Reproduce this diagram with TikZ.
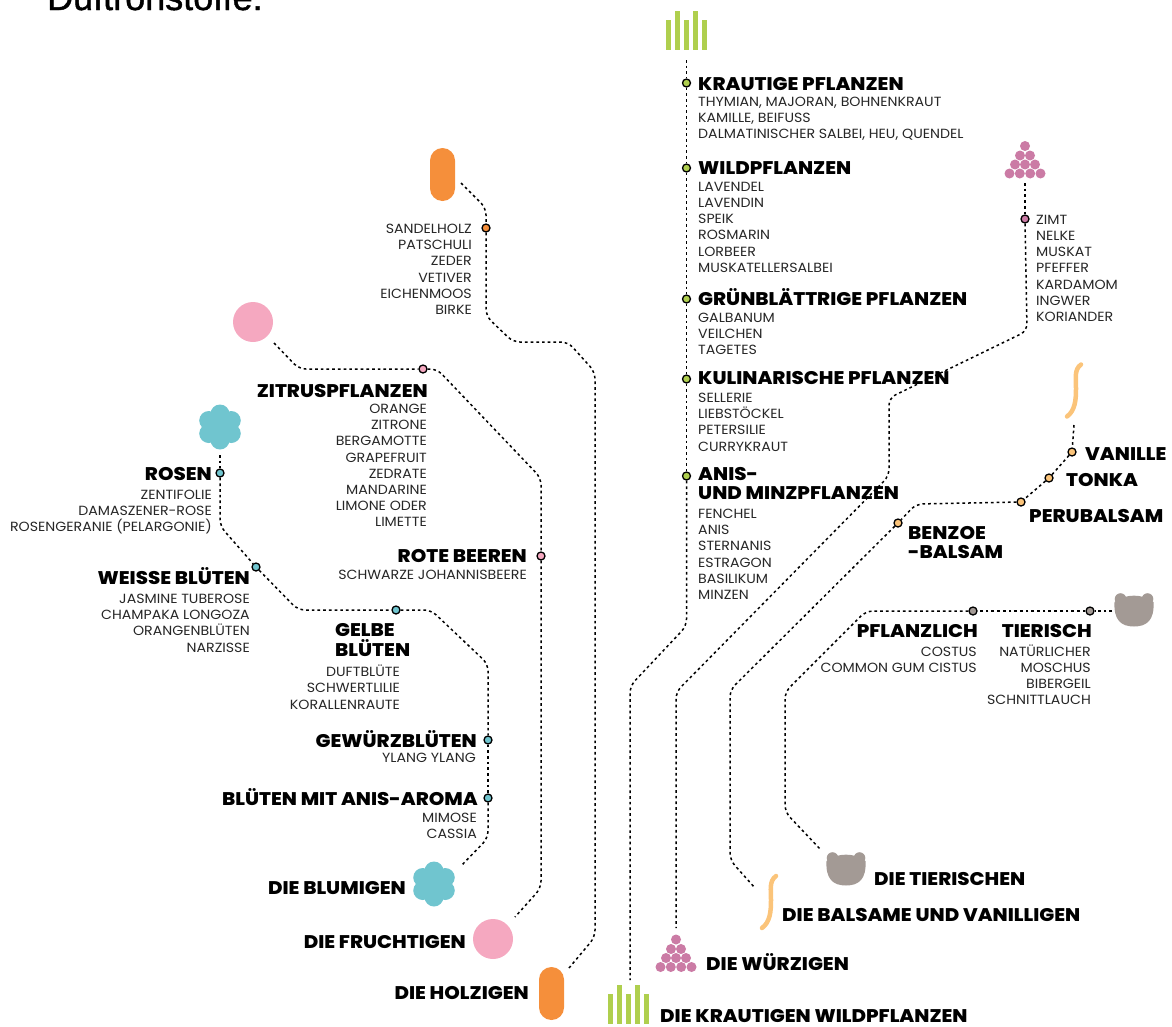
\documentclass[tikz,border=0pt]{standalone}
\usepackage{fontspec}
\setmainfont{Poppins}[UprightFont=*-Regular, BoldFont=*-ExtraBold, UprightFeatures={FakeStretch=1.065}, BoldFeatures={FakeStretch=1.08}]
\newfontfamily\titlefont[FakeBold=1.2]{Liberation Sans}
\usetikzlibrary{positioning}

\definecolor{holzcol}{HTML}{F58F3B}
\definecolor{fruchtcol}{HTML}{F5A8C0}
\definecolor{blumcol}{HTML}{70C5CF}
\definecolor{krautcol}{HTML}{AFCF4E}
\definecolor{wuerzcol}{HTML}{CB7BA5}
\definecolor{balsamcol}{HTML}{FBC47A}
\definecolor{tiercol}{HTML}{A39A95}

\tikzset{
  dotline/.style={line width=1.5pt, dash pattern=on 2.7pt off 3pt, rounded corners=7pt},
  stopdot/.style={circle, draw=black, line width=1.3pt, fill=#1, inner sep=0pt, minimum size=8pt},
  head/.style={font=\fontsize{18.3}{19.5}\selectfont\bfseries, inner sep=0pt, yshift=-0.7pt},
  items/.style={font=\fontsize{13.3}{16.2}\selectfont, inner sep=0pt, text=black!85, yshift=-0.4pt},
  pill/.style={rectangle, rounded corners=12.5pt, fill=holzcol, minimum width=25pt, minimum height=53pt, inner sep=0pt},
  disc/.style={circle, fill=fruchtcol, minimum size=40pt, inner sep=0pt},
  flower/.pic={
    \fill[blumcol] (0,0) circle (13pt);
    \foreach \a in {30,90,...,330} \fill[blumcol] (\a:13pt) circle (9.5pt);
  },
  bars/.pic={
    \foreach \bx/\btop in {-20.5/-30, -11.5/-39, -2.5/-30, 6.5/-39, 15.5/-30}
      \fill[krautcol] (\bx,0) rectangle ++(5,\btop);
  },
  spices/.pic={
    \foreach \sx/\sy in {0/-27.5, -5/-18, 5/-18, -10/-9, 0/-9, 10/-9, -15.5/0, -5.2/0, 5.2/0, 15.5/0}
      \fill[wuerzcol] (\sx,\sy) circle (5pt);
  },
  squiggle/.pic={
    \draw[balsamcol, line width=4.5pt, line cap=round] (9,-26) .. controls (2,-21) and (4,-12) .. (4,-2)
      .. controls (4,10) and (3,20) .. (-5,26);
  },
  bear/.pic={
    \fill[tiercol] (-13.5,-11) circle (5.8pt);
    \fill[tiercol] (13.5,-11) circle (5.8pt);
    \fill[tiercol] (-19.5,-8) .. controls (-8,-16.5) and (8,-16.5) .. (19.5,-8)
      .. controls (20.5,10) and (13,16.5) .. (0,16.5) .. controls (-13,16.5) and (-20.5,10) .. (-19.5,-8) -- cycle;
  }
}

\begin{document}
\begin{tikzpicture}[x=1pt, y=-1pt]
  \useasboundingbox (0,0) rectangle (1172,1026);
  \clip (0,0) rectangle (1172,1026);

  % title %
  \node[anchor=base west, inner sep=0pt, font=\fontsize{36}{40}\titlefont] (title) at (47,10) {Duftronstoffe:};

  % icons %
  \node[pill] (holztop) at (442.5,174.5) {};
  \node[pill] (holzbot) at (551.5,993.5) {};
  \node[disc] (fruchttop) at (253,322) {};
  \node[disc] (fruchtbot) at (493,939) {};
  \pic at (220,427) {flower};
  \pic at (434,884) {flower};
  \pic at (686.5,50) {bars};
  \pic at (628.5,1024) {bars};
  \pic at (1025,173.5) {spices};
  \pic at (676,967) {spices};
  \pic at (1072,390.5) {squiggle};
  \pic at (767,902) {squiggle};
  \pic at (1134,610) {bear};
  \pic at (846,869) {bear};

  % stops %
  \node[stopdot=holzcol] (sandel) at (486,228) {};
  \node[stopdot=fruchtcol] (zitrus) at (423,369) {};
  \node[stopdot=fruchtcol] (beeren) at (541,556) {};
  \node[stopdot=blumcol] (rosen) at (220,473) {};
  \node[stopdot=blumcol] (weiss) at (256,567) {};
  \node[stopdot=blumcol] (gelb) at (396,610) {};
  \node[stopdot=blumcol] (gewuerz) at (488,740) {};
  \node[stopdot=blumcol] (anisblu) at (488,798) {};
  \node[stopdot=krautcol] (krautig) at (686.5,83) {};
  \node[stopdot=krautcol] (wild) at (686.5,168) {};
  \node[stopdot=krautcol] (gruen) at (686.5,299) {};
  \node[stopdot=krautcol] (kulin) at (686.5,379) {};
  \node[stopdot=krautcol] (anis) at (686.5,476) {};
  \node[stopdot=wuerzcol] (zimt) at (1025,219) {};
  \node[stopdot=balsamcol] (vanille) at (1072,452) {};
  \node[stopdot=balsamcol] (tonka) at (1049,478) {};
  \node[stopdot=balsamcol] (peru) at (1021,502) {};
  \node[stopdot=balsamcol] (benzoe) at (898,523) {};
  \node[stopdot=tiercol] (tierisch) at (1090,611) {};
  \node[stopdot=tiercol] (pflanzl) at (973,611) {};

  % free ends %
  \coordinate (holzfree) at (461,183);
  \coordinate (holzend) at (569,968);
  \coordinate (fruchtfree) at (274,343);
  \coordinate (fruchtend) at (515,917);
  \coordinate (blumfree) at (220,455);
  \coordinate (blumend) at (461,866);
  \coordinate (krautfree) at (686.5,60);
  \coordinate (krautend) at (630,980);
  \coordinate (wuerzfree) at (1025,183);
  \coordinate (wuerzend) at (676,928);
  \coordinate (balsamfree) at (1074,425);
  \coordinate (balsamend) at (755,888);
  \coordinate (tierfree) at (1112,611);
  \coordinate (tierend) at (821,850);

  % edges %
  \draw[dotline] (holzfree) -- (486,208) -- (sandel);
  \draw[dotline] (sandel) -- (486,316) -- (513,342) -- (568,342) -- (595,372) -- (595,937) -- (holzend);
  \draw[dotline] (fruchtfree) -- (299,369) -- (zitrus);
  \draw[dotline] (zitrus) -- (437,369) -- (541,478) -- (beeren);
  \draw[dotline] (beeren) -- (541,888) -- (fruchtend);
  \draw[dotline] (blumfree) -- (rosen);
  \draw[dotline] (rosen) -- (220,526) -- (weiss);
  \draw[dotline] (weiss) -- (298,610) -- (gelb);
  \draw[dotline] (gelb) -- (431,610) -- (488,664) -- (gewuerz);
  \draw[dotline] (gewuerz) -- (anisblu);
  \draw[dotline] (anisblu) -- (488,838) -- (blumend);
  \draw[dotline] (krautfree) -- (krautig);
  \draw[dotline] (krautig) -- (wild);
  \draw[dotline] (wild) -- (gruen);
  \draw[dotline] (gruen) -- (kulin);
  \draw[dotline] (kulin) -- (anis);
  \draw[dotline] (anis) -- (686.5,626) -- (630,686) -- (krautend);
  \draw[dotline] (wuerzfree) -- (zimt);
  \draw[dotline] (zimt) -- (1027,331) -- (889,398) -- (889,476) -- (676,692) -- (wuerzend);
  \draw[dotline] (balsamfree) -- (vanille);
  \draw[dotline] (vanille) -- (tonka);
  \draw[dotline] (tonka) -- (peru);
  \draw[dotline] (peru) -- (916,504) -- (benzoe);
  \draw[dotline] (benzoe) -- (730,690) -- (730,860) -- (balsamend);
  \draw[dotline] (tierfree) -- (tierisch);
  \draw[dotline] (tierisch) -- (pflanzl);
  \draw[dotline] (pflanzl) -- (866,611) -- (785,692) -- (785,812) -- (tierend);

  % left labels %
  \node[items, anchor=north east, align=right] (sandelitems) at (472,223.5) {SANDELHOLZ\\PATSCHULI\\ZEDER\\VETIVER\\EICHENMOOS\\BIRKE};
  \node[head, anchor=base east] (zitruslab) at (428,397) {ZITRUSPFLANZEN};
  \node[items, anchor=north east, align=right] (zitrusitems) at (427,403.5) {ORANGE\\ZITRONE\\BERGAMOTTE\\GRAPEFRUIT\\ZEDRATE\\MANDARINE\hspace{3pt}\\LIMONE ODER\hspace{3pt}\\LIMETTE};
  \node[head, anchor=base east] (beerenlab) at (527,562) {ROTE BEEREN};
  \node[items, anchor=north east, align=right] (beerenitems) at (527,569.5) {SCHWARZE JOHANNISBEERE};
  \node[head, anchor=base east] (rosenlab) at (212,480) {ROSEN};
  \node[items, anchor=north east, align=right] (rosenitems) at (212,489.5) {ZENTIFOLIE\\DAMASZENER-ROSE\\ROSENGERANIE (PELARGONIE)};
  \node[head, anchor=base east] (weisslab) at (250,584) {WEISSE BLÜTEN};
  \node[items, anchor=north east, align=right] (weissitems) at (250,593.5) {JASMINE TUBEROSE\\CHAMPAKA LONGOZA\\ORANGENBLÜTEN\\NARZISSE};
  \node[head, anchor=base west] (gelblab) at (335,636) {GELBE};
  \node[head, anchor=base west] (gelblab2) at (335,656) {BLÜTEN};
  \node[items, anchor=north east, align=right] (gelbitems) at (400,664.5) {DUFTBLÜTE\\SCHWERTLILIE\\KORALLENRAUTE};
  \node[head, anchor=base east] (gewuerzlab) at (477,747) {GEWÜRZBLÜTEN};
  \node[items, anchor=north east, align=right] (gewuerzitems) at (476,752.5) {YLANG YLANG};
  \node[head, anchor=base east] (anisblulab) at (478,805) {BLÜTEN MIT ANIS-AROMA};
  \node[items, anchor=north east, align=right] (anisbluitems) at (477,812.5) {MIMOSE\\CASSIA};

  % bottom labels %
  \node[head, anchor=base east] (blumlab) at (406,894) {DIE BLUMIGEN};
  \node[head, anchor=base east] (fruchtlab) at (466,948) {DIE FRUCHTIGEN};
  \node[head, anchor=base east] (holzlab) at (529,999) {DIE HOLZIGEN};
  \node[head, anchor=base west] (wuerzlab) at (706,970) {DIE WÜRZIGEN};
  \node[head, anchor=base west] (krautlab) at (660,1022) {DIE KRAUTIGEN WILDPFLANZEN};
  \node[head, anchor=base west] (balsamlab) at (782,921) {DIE BALSAME UND VANILLIGEN};
  \node[head, anchor=base west] (tierlab) at (874,885) {DIE TIERISCHEN};

  % right labels %
  \node[head, anchor=base west] (krautiglab) at (698,90) {KRAUTIGE PFLANZEN};
  \node[items, anchor=north west, align=left] (krautigitems) at (698,96.5) {THYMIAN, MAJORAN, BOHNENKRAUT\\KAMILLE, BEIFUSS\\DALMATINISCHER SALBEI, HEU, QUENDEL};
  \node[head, anchor=base west] (wildlab) at (698,174) {WILDPFLANZEN};
  \node[items, anchor=north west, align=left] (wilditems) at (698,181.5) {LAVENDEL\\LAVENDIN\\SPEIK\\ROSMARIN\\LORBEER\\MUSKATELLERSALBEI};
  \node[head, anchor=base west] (gruenlab) at (698,305) {GRÜNBLÄTTRIGE PFLANZEN};
  \node[items, anchor=north west, align=left] (gruenitems) at (698,312.5) {GALBANUM\\VEILCHEN\\TAGETES};
  \node[head, anchor=base west] (kulinlab) at (698,384) {KULINARISCHE PFLANZEN};
  \node[items, anchor=north west, align=left] (kulinitems) at (698,392.5) {SELLERIE\\LIEBSTÖCKEL\\PETERSILIE\\CURRYKRAUT};
  \node[head, anchor=base west] (anislab) at (698,480) {ANIS-};
  \node[head, anchor=base west] (anislab2) at (698,499) {UND MINZPFLANZEN};
  \node[items, anchor=north west, align=left] (anisitems) at (698,508.5) {FENCHEL\\ANIS\\STERNANIS\\ESTRAGON\\BASILIKUM\\MINZEN};
  \node[items, anchor=north west, align=left] (zimtitems) at (1036,214.5) {ZIMT\\NELKE\\MUSKAT\\PFEFFER\\KARDAMOM\\INGWER\\KORIANDER};
  \node[head, anchor=base west] (vanillelab) at (1085,460) {VANILLE};
  \node[head, anchor=base west] (tonkalab) at (1066,486) {TONKA};
  \node[head, anchor=base west] (perulab) at (1029,522) {PERUBALSAM};
  \node[head, anchor=base west] (benzoelab) at (908,539) {BENZOE};
  \node[head, anchor=base west] (benzoelab2) at (908,558) {-BALSAM};
  \node[head, anchor=base east] (pflanzllab) at (978,637) {PFLANZLICH};
  \node[items, anchor=north east, align=right] (pflanzlitems) at (977,646.5) {COSTUS\\COMMON GUM CISTUS};
  \node[head, anchor=base east] (tierlab2) at (1092,637) {TIERISCH};
  \node[items, anchor=base east, align=right] (tieritems) at (1091,704.5) {NATÜRLICHER\hspace{3pt}\\MOSCHUS\\BIBERGEIL\\SCHNITTLAUCH};
\end{tikzpicture}
\end{document}
